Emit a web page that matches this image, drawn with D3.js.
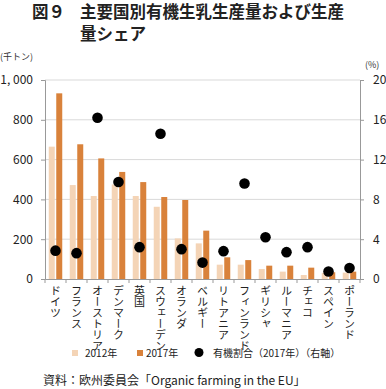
<!DOCTYPE html>
<html>
<head>
<meta charset="utf-8">
<script src="https://cdn.jsdelivr.net/npm/d3@7"></script>
<style>
  body { margin: 0; background: #fff; }
  svg { display: block; font-family: "Noto Sans CJK JP", sans-serif; }
</style>
</head>
<body>
<svg id="chart" width="386" height="389"></svg>
<script>
const countries = ['ドイツ', 'フランス', 'オーストリア', 'デンマーク', '英国', 'スウェーデン', 'オランダ',
  'ベルギー', 'リトアニア', 'フィンランド', 'ギリシャ', 'ルーマニア', 'チェコ', 'スペイン', 'ポーランド'];
const prod2012 = [665, 472, 417, 475, 417, 363, 204, 179, 72, 72, 50, 37, 20, 31, 32];
const prod2017 = [933, 677, 606, 538, 487, 412, 397, 243, 109, 95, 67, 67, 57, 34, 37];
const share2017 = [2.85, 2.6, 16.2, 9.75, 3.2, 14.6, 3.0, 1.65, 2.8, 9.6, 4.2, 2.7, 3.2, 0.75, 1.1];
const leftTicks = [0, 200, 400, 600, 800, 1000];
const rightTicks = [0, 4, 8, 12, 16, 20];

const svg = d3.select('#chart');
const m = { l: 45, r: 360, t: 80, b: 279 };

const x = d3.scaleBand().domain(countries).range([m.l, m.r]).padding(0);
const y = d3.scaleLinear().domain([0, 1000]).range([m.b, m.t]);
const y2 = d3.scaleLinear().domain([0, 20]).range([m.b, m.t]);

// title
const tg = svg.append('g').attr('font-size', 16.5).attr('font-weight', 700).attr('fill', '#222');
tg.append('text').attr('x', 32).attr('y', 18).text('図９');
tg.append('text').attr('x', 80).attr('y', 18).text('主要国別有機生乳生産量および生産');
tg.append('text').attr('x', 80).attr('y', 40).text('量シェア');

// unit labels
svg.append('text').attr('x', 0).attr('y', 60).attr('font-size', 9).attr('fill', '#333').text('(千トン)');
svg.append('text').attr('x', 365).attr('y', 68).attr('font-size', 9).attr('fill', '#333').text('(%)');

// gridlines
svg.append('g').selectAll('line')
  .data(leftTicks.slice(1))
  .enter()
  .append('line')
  .attr('x1', m.l).attr('x2', m.r)
  .attr('y1', d => y(d)).attr('y2', d => y(d))
  .attr('stroke', '#d9d9d9').attr('stroke-width', 1);

// bars
const bw = 6;
const gap = 1.5;
svg.append('g').selectAll('rect')
  .data(countries)
  .enter()
  .append('rect')
  .attr('x', d => x(d) + x.bandwidth() / 2 - bw - gap / 2)
  .attr('y', (d, i) => y(prod2012[i]))
  .attr('width', bw)
  .attr('height', (d, i) => y(0) - y(prod2012[i]))
  .attr('fill', '#f4d4b6');

svg.append('g').selectAll('rect')
  .data(countries)
  .enter()
  .append('rect')
  .attr('x', d => x(d) + x.bandwidth() / 2 + gap / 2)
  .attr('y', (d, i) => y(prod2017[i]))
  .attr('width', bw)
  .attr('height', (d, i) => y(0) - y(prod2017[i]))
  .attr('fill', '#d9823b');

// axes
const leftAxis = d3.axisLeft(y).tickValues(leftTicks).tickSize(4).tickPadding(8)
  .tickFormat(d => d3.format(',')(d).replace(',', ', '));
const gl = svg.append('g').attr('transform', `translate(${m.l},0)`).call(leftAxis);
gl.selectAll('text').attr('font-size', 12).attr('fill', '#222').attr('font-family', '"Noto Sans CJK JP"');

const rightAxis = d3.axisRight(y2).tickValues(rightTicks).tickSize(4).tickPadding(9);
const gr = svg.append('g').attr('transform', `translate(${m.r},0)`).call(rightAxis);
gr.selectAll('text').attr('font-size', 12).attr('fill', '#222').attr('font-family', '"Noto Sans CJK JP"');

const bottomAxis = d3.axisBottom(x).tickSize(0).tickFormat('');
const gb = svg.append('g').attr('transform', `translate(0,${m.b})`).call(bottomAxis);

[gl, gr, gb].forEach(g => {
  g.select('.domain').attr('stroke', '#999');
  g.selectAll('.tick line').attr('stroke', '#999');
});

// category separators
svg.append('g').selectAll('line')
  .data(countries.concat(['end']))
  .enter()
  .append('line')
  .attr('x1', (d, i) => m.l + i * x.bandwidth())
  .attr('x2', (d, i) => m.l + i * x.bandwidth())
  .attr('y1', m.b).attr('y2', m.b + 4)
  .attr('stroke', '#999');

// vertical category labels
svg.append('g').selectAll('text')
  .data(countries)
  .enter()
  .append('text')
  .attr('x', d => x(d) + x.bandwidth() / 2)
  .attr('y', m.b + 6)
  .style('writing-mode', 'vertical-rl')
  .attr('font-size', 11)
  .attr('fill', '#222')
  .text(d => d);

// share dots
svg.append('g').selectAll('circle')
  .data(countries)
  .enter()
  .append('circle')
  .attr('cx', d => x(d) + x.bandwidth() / 2)
  .attr('cy', (d, i) => y2(share2017[i]))
  .attr('r', 5.3)
  .attr('fill', '#000');

// legend
const lg = svg.append('g').attr('font-size', 10).attr('fill', '#222');
lg.append('rect').attr('x', 72).attr('y', 350).attr('width', 6).attr('height', 6).attr('fill', '#f4d4b6');
lg.append('text').attr('x', 85).attr('y', 357).text('2012年');
lg.append('rect').attr('x', 137).attr('y', 350).attr('width', 6).attr('height', 6).attr('fill', '#d9823b');
lg.append('text').attr('x', 146).attr('y', 357).text('2017年');
lg.append('circle').attr('cx', 199).attr('cy', 352.5).attr('r', 4.5).attr('fill', '#000');
lg.append('text').attr('x', 213).attr('y', 357).text('有機割合（2017年）（右軸）');

// source
svg.append('text').attr('x', 43).attr('y', 385).attr('font-size', 12).attr('fill', '#222')
  .text('資料：欧州委員会「Organic farming in the EU」');
</script>
</body>
</html>
